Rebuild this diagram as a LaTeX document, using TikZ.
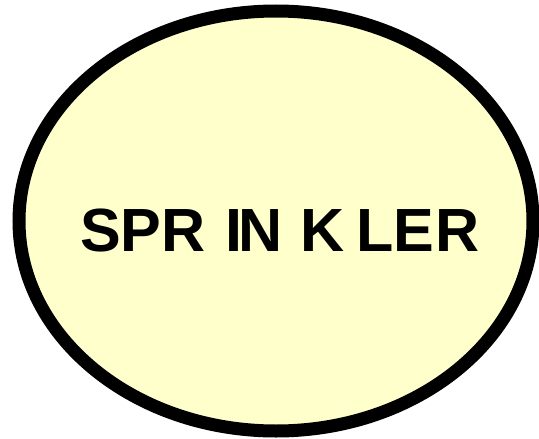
\documentclass[tikz,border=0pt]{standalone}
\usepackage{fontspec}
\setmainfont{Liberation Sans}
\definecolor{fillyel}{HTML}{FFFFCC}
\tikzset{lbl/.style={font=\fontsize{61}{63}\selectfont\bfseries, inner sep=0pt}}
\begin{document}
\begin{tikzpicture}[x=1pt,y=-1pt]
\useasboundingbox (0,0) rectangle (539,439);
\draw[draw=black, line width=13pt, fill=fillyel] (276,221) ellipse [x radius=257, y radius=210];
\node[lbl, anchor=base] (t) at (280,251) {SPR\hspace{20pt}I\hspace{-4pt}N\hspace{18pt}K\hspace{12pt}LE\hspace{1pt}R};
\end{tikzpicture}
\end{document}
